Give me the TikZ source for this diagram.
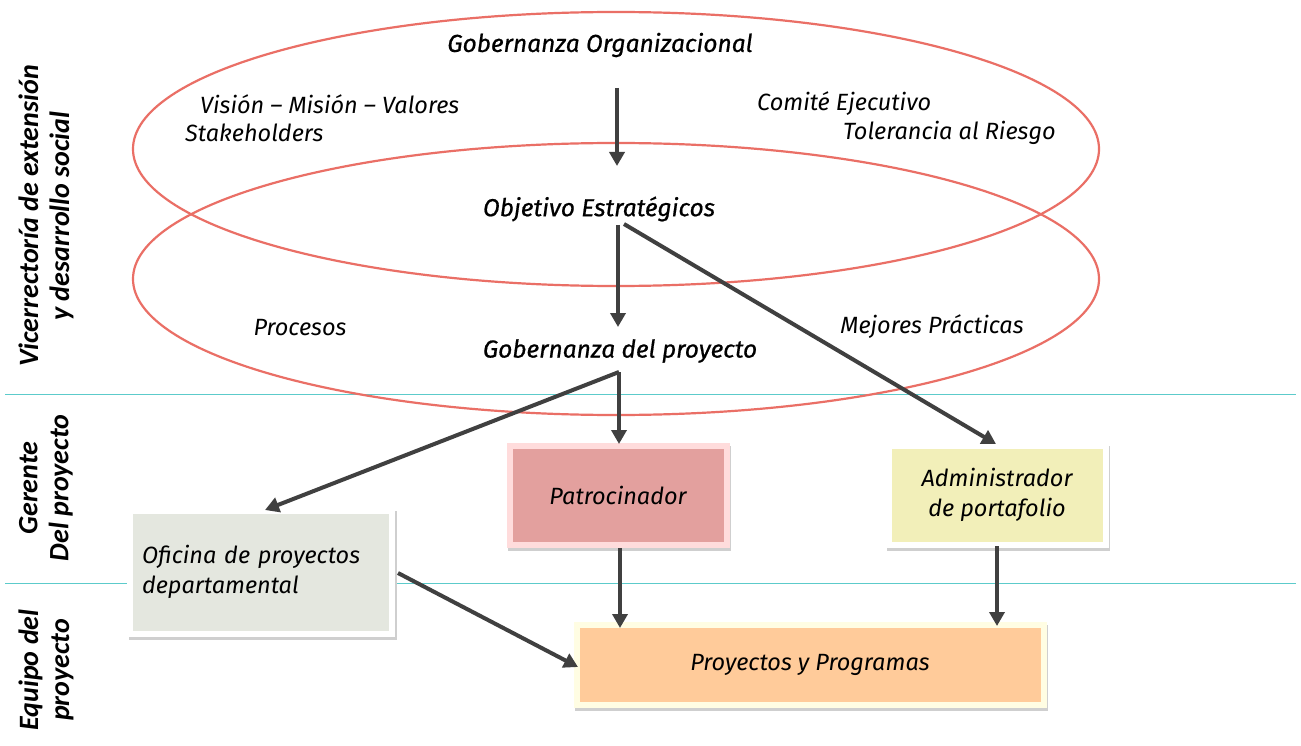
\documentclass[tikz,border=0pt]{standalone}
\usepackage{fontspec}
\setmainfont{Fira Sans}
\newfontfamily\sidefont{Carlito}
\usetikzlibrary{arrows.meta}
\definecolor{ringred}{HTML}{EA6F66}
\definecolor{laneteal}{HTML}{5CCBCB}
\definecolor{arrowgrey}{HTML}{404040}
\definecolor{officegrey}{HTML}{E4E7DF}
\definecolor{sponsorpink}{HTML}{E3A09E}
\definecolor{sponsorrim}{HTML}{FFDCDC}
\definecolor{adminyellow}{HTML}{F2EFB9}
\definecolor{projpeach}{HTML}{FFCB9A}
\definecolor{projrim}{HTML}{FFFDE3}
\definecolor{shade}{HTML}{CFCFCF}
\tikzset{
  ring/.style={draw=ringred, line width=2.2pt},
  lane/.style={draw=laneteal, line width=1pt},
  lbl/.style={font=\fontsize{23.5}{26}\selectfont\itshape, inner sep=0pt},
  key/.style={font=\fontsize{24.5}{26}\selectfont\itshape\addfontfeatures{FakeBold=0.7}, inner sep=0pt},
  side/.style={font=\fontsize{28}{31}\selectfont\sidefont\bfseries\itshape, rotate=90, align=center, inner sep=0pt},
  arr/.style={draw=arrowgrey, line width=4pt, -{Triangle[width=15pt,length=14pt]}},
  card/.style={line width=6pt, font=\fontsize{23.5}{30}\selectfont\itshape,
    preaction={draw=shade, fill=shade, transform canvas={shift={(1.5pt,-3pt)}}}},
}
\begin{document}
\begin{tikzpicture}[x=1pt,y=-1pt]
\useasboundingbox (0,0) rectangle (1301,746);
\fill[white] (0,0) rectangle (1301,746);

% lane separators
\draw[lane] (5,394) -- (1296,394);
\draw[lane] (5,583) -- (1296,583);

% lane titles
\node[side] (lane1) at (46,216) {Vicerrectoría de extensión\\y desarrollo social};
\node[side] (lane2) at (46,488) {Gerente\\Del proyecto};
\node[side] (lane3) at (46,670) {Equipo del\\proyecto};

% governance rings
\draw[ring] (616,149) ellipse [x radius=483, y radius=137];
\draw[ring] (616,279) ellipse [x radius=483, y radius=136];

% ring texts
\node[key] (gorg) at (600,45) {Gobernanza Organizacional};
\node[lbl, anchor=west] (vmv) at (200,104) {Visión – Misión – Valores};
\node[lbl, anchor=west] (stk) at (185,133) {Stakeholders};
\node[lbl, anchor=west] (com) at (757,104) {Comité Ejecutivo};
\node[lbl, anchor=west] (tol) at (843,133) {Tolerancia al Riesgo};
\node[key] (obj) at (599,209) {Objetivo Estratégicos};
\node[lbl] (proc) at (300,328) {Procesos};
\node[lbl] (mej) at (932,327) {Mejores Prácticas};
\node[key] (gproj) at (620,351) {Gobernanza del proyecto};

% role cards
\node[card, draw=white, fill=officegrey, minimum width=262pt, minimum height=123pt,
  text width=238pt, align=left] (ofi) at (261,572) {Oficina de proyectos\\departamental};
\node[card, draw=sponsorrim, fill=sponsorpink, minimum width=217pt, minimum height=99pt] (pat) at (618,495) {Patrocinador};
\node[card, draw=white, fill=adminyellow, minimum width=217pt, minimum height=99pt, align=center] (adm) at (997,495) {Administrador\\de portafolio};
\node[card, draw=projrim, fill=projpeach, minimum width=467pt, minimum height=80pt] (pyp) at (810,665) {Proyectos y Programas};

% connector end points
\coordinate (gorgOut) at (617,88);
\coordinate (objIn) at (617,166);
\coordinate (objOut) at (618,225);
\coordinate (objFork) at (624,224);
\coordinate (gprojIn) at (618,327);
\coordinate (gprojOut) at (619,372);
\coordinate (patIn) at (619,444);
\coordinate (ofiIn) at (265,510);
\coordinate (admIn) at (996,444);
\coordinate (patOut) at (620,548);
\coordinate (pypInA) at (620,628);
\coordinate (admOut) at (997,546);
\coordinate (pypInB) at (997,626);
\coordinate (ofiOut) at (398,573);
\coordinate (pypInC) at (578,667);

% connectors
\draw[arr] (gorgOut) -- (objIn);
\draw[arr] (objOut) -- (gprojIn);
\draw[arr] (objFork) -- (admIn);
\draw[arr] (gprojOut) -- (patIn);
\draw[arr] (gprojOut) -- (ofiIn);
\draw[arr] (patOut) -- (pypInA);
\draw[arr] (admOut) -- (pypInB);
\draw[arr] (ofiOut) -- (pypInC);
\end{tikzpicture}
\end{document}
